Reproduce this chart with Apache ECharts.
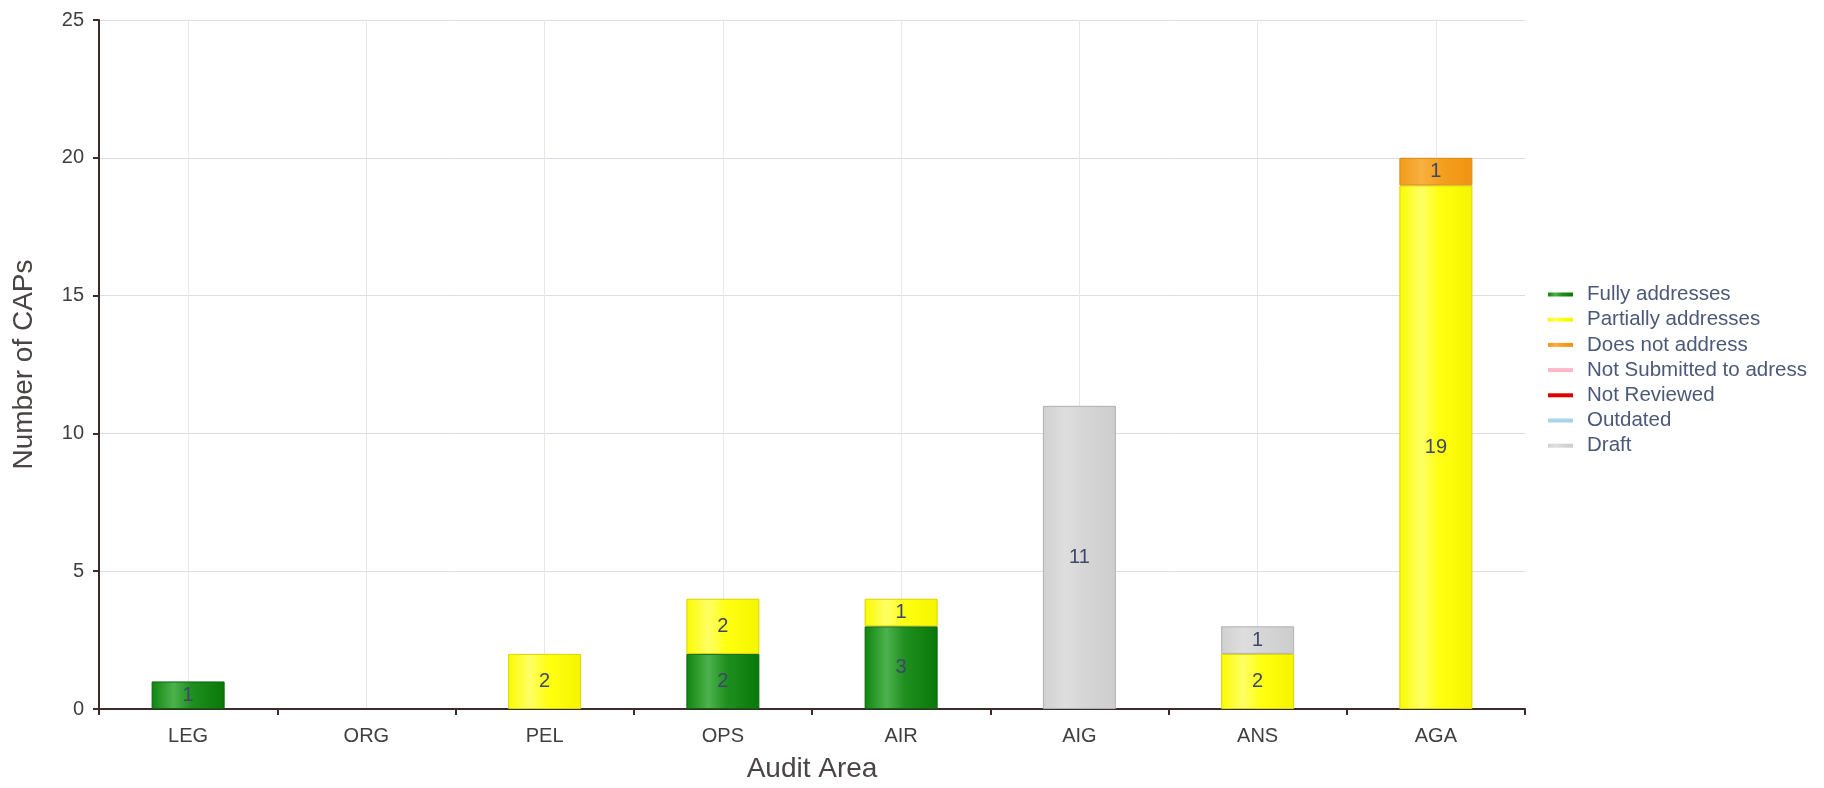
<!DOCTYPE html>
<html>
<head>
<meta charset="utf-8">
<script src="https://cdn.jsdelivr.net/npm/echarts@6/dist/echarts.min.js"></script>
<style>
html,body{margin:0;padding:0;background:#fff;}
#chart{width:1824px;height:788px;}
</style>
</head>
<body>
<div id="chart"></div>
<script>
var categories = ['LEG', 'ORG', 'PEL', 'OPS', 'AIR', 'AIG', 'ANS', 'AGA'];
var seriesNames = ['Fully addresses', 'Partially addresses', 'Does not address', 'Not Submitted to adress', 'Not Reviewed', 'Outdated', 'Draft'];
var fullyAddresses     = [1, 0, 0, 2, 3, 0, 0, 0];
var partiallyAddresses = [0, 0, 2, 2, 1, 0, 2, 19];
var doesNotAddress     = [0, 0, 0, 0, 0, 0, 0, 1];
var notSubmitted       = [0, 0, 0, 0, 0, 0, 0, 0];
var notReviewed        = [0, 0, 0, 0, 0, 0, 0, 0];
var outdated           = [0, 0, 0, 0, 0, 0, 0, 0];
var draft              = [0, 0, 0, 0, 0, 11, 1, 0];
var yTicks = [0, 5, 10, 15, 20, 25];

var allValues = [fullyAddresses, partiallyAddresses, doesNotAddress, notSubmitted, notReviewed, outdated, draft];

function grad(stops) {
  return new echarts.graphic.LinearGradient(0, 0, 1, 0, stops.map(function (s) { return {offset: s[0], color: s[1]}; }));
}
var styles = [
  {legend: '#0a7d0a', fill: grad([[0, '#0f850f'], [0.3, '#4db24d'], [0.55, '#1f8f1f'], [1, '#087808']]), border: '#0a650a'},
  {legend: '#ffff00', fill: grad([[0, '#fafa00'], [0.3, '#ffff66'], [0.55, '#ffff10'], [1, '#f5f500']]), border: '#dcd200'},
  {legend: '#f59a1a', fill: grad([[0, '#f39a18'], [0.3, '#f8b040'], [0.55, '#f5a020'], [1, '#ef9412']]), border: '#d98a10'},
  {legend: '#ffb6c8', fill: '#ffb6c8', border: '#e8a0b0'},
  {legend: '#e00000', fill: '#e00000', border: '#b00000'},
  {legend: '#a8d4e8', fill: '#a8d4e8', border: '#88b4c8'},
  {legend: '#cccccc', fill: grad([[0, '#d0d0d0'], [0.3, '#dedede'], [0.55, '#d6d6d6'], [1, '#cdcdcd']]), border: '#b0b0b0'}
];

var FONT = 'Liberation Sans, Arial, sans-serif';

var series = seriesNames.map(function (name, i) {
  return {
    name: name,
    type: 'bar',
    stack: 'total',
    barWidth: 73,
    z: 3,
    color: styles[i].legend,
    itemStyle: {color: styles[i].fill, borderColor: styles[i].border, borderWidth: 1},
    label: {
      show: true,
      position: 'inside',
      color: '#3b4868',
      fontFamily: FONT,
      fontSize: 20,
      formatter: function (p) { return p.value ? String(p.value) : ''; }
    },
    data: allValues[i].map(function (v) { return v === 0 ? '-' : v; })
  };
});

// vertical grid lines at category centres (as in the reference)
series.push({
  name: '_grid',
  type: 'line',
  data: [],
  z: 0,
  silent: true,
  markLine: {
    silent: true,
    z: 0,
    symbol: ['none', 'none'],
    label: {show: false},
    lineStyle: {color: '#e6e6ec', width: 1, type: 'solid'},
    emphasis: {disabled: true},
    data: categories.map(function (c) { return {xAxis: c}; })
  }
});

var chart = echarts.init(document.getElementById('chart'));
chart.setOption({
  animation: false,
  backgroundColor: '#ffffff',
  grid: {left: 99, right: 299, top: 20, bottom: 77, containLabel: false},
  legend: {
    orient: 'vertical',
    left: 1543,
    top: 279,
    itemWidth: 25,
    itemHeight: 4,
    itemGap: 4.2,
    icon: 'rect',
    itemStyle: {borderWidth: 0},
    data: seriesNames,
    textStyle: {color: '#4b5878', fontFamily: FONT, fontSize: 20.5, padding: [0, 0, 0, 9]}
  },
  xAxis: {
    type: 'category',
    data: categories,
    name: 'Audit Area',
    nameLocation: 'middle',
    nameGap: 46,
    nameTextStyle: {color: '#4a4444', fontFamily: FONT, fontSize: 28},
    axisLine: {lineStyle: {color: '#3a2c2c', width: 2}},
    axisTick: {show: true, length: 6, lineStyle: {color: '#3a2c2c', width: 2}},
    axisLabel: {color: '#3f3f3f', fontFamily: FONT, fontSize: 20, margin: 17},
    splitLine: {show: false}
  },
  yAxis: {
    type: 'value',
    min: 0,
    max: yTicks[yTicks.length - 1],
    interval: yTicks[1] - yTicks[0],
    name: 'Number of CAPs',
    nameLocation: 'middle',
    nameGap: 61,
    nameTextStyle: {color: '#4a4444', fontFamily: FONT, fontSize: 28},
    axisLine: {show: true, lineStyle: {color: '#3a2c2c', width: 2}},
    axisTick: {show: true, length: 6, lineStyle: {color: '#3a2c2c', width: 2}},
    axisLabel: {color: '#3f3f3f', fontFamily: FONT, fontSize: 20, margin: 15},
    splitLine: {show: true, lineStyle: {color: '#dcdde9', width: 1}}
  },
  series: series
});
</script>
</body>
</html>
